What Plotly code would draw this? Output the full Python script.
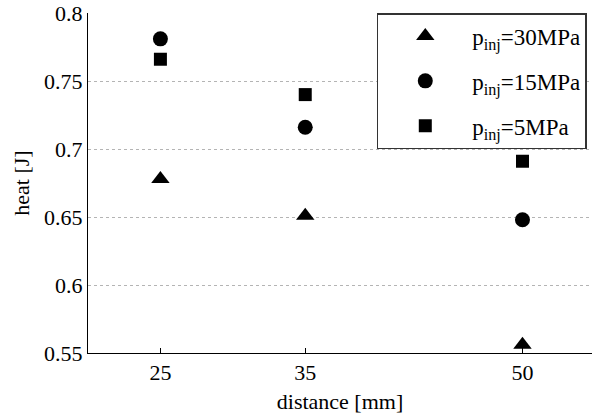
import plotly.graph_objects as go

distance = [25, 35, 50]
heat_30 = [0.678, 0.651, 0.556]
heat_15 = [0.781, 0.716, 0.648]
heat_5 = [0.766, 0.740, 0.691]
names = ["p<sub>inj</sub>=30MPa", "p<sub>inj</sub>=15MPa", "p<sub>inj</sub>=5MPa"]
symbols = ["triangle-up", "circle", "square"]
sizes = [16, 15, 13]

fig = go.Figure()
for i, (vals, name, sym, sz) in enumerate(zip([heat_30, heat_15, heat_5], names, symbols, sizes)):
    fig.add_trace(go.Scatter(x=distance, y=vals, mode="markers", name=name, legendgroup=f"g{i}",
                             marker=dict(symbol=sym, size=sz, color="black")))

font = "Liberation Serif, Times New Roman, serif"
tickfont = dict(family=font, size=22, color="black", weight="normal", style="normal")
fig.update_layout(
    width=592, height=417,
    margin=dict(l=88, r=0, t=13, b=64, autoexpand=False),
    plot_bgcolor="white", paper_bgcolor="white",
    font=dict(family=font, size=22, color="black"),
    showlegend=True,
    legend=dict(x=0.573, y=1, xanchor="left", yanchor="top",
                bordercolor="#333333", borderwidth=1.5, bgcolor="white",
                tracegroupgap=12, itemwidth=84,
                font=dict(family=font, size=23)),
    xaxis=dict(range=[20, 54.8], tickmode="array", tickvals=distance,
               ticktext=[str(d) for d in distance],
               showgrid=False, zeroline=False, showline=True, linecolor="black", linewidth=1,
               ticks="inside", ticklen=5, tickcolor="black",
               tickfont=tickfont,
               title=dict(text="distance [mm]", font=dict(family=font, size=22), standoff=9)),
    yaxis=dict(range=[0.55, 0.8], tickmode="array", tickvals=[0.55, 0.6, 0.65, 0.7, 0.75, 0.8],
               ticktext=["0.55", "0.6", "0.65", "0.7", "0.75", "0.8"],
               showgrid=True, gridcolor="#b4b4b4", griddash="dot", gridwidth=1,
               zeroline=False, showline=True, linecolor="black", linewidth=1,
               ticks="", tickfont=tickfont,
               title=dict(text="heat [J]", font=dict(family=font, size=22), standoff=8)),
)
fig.write_html("out.html", config={"displayModeBar": False},
               post_script="document.body.style.margin='0';")
